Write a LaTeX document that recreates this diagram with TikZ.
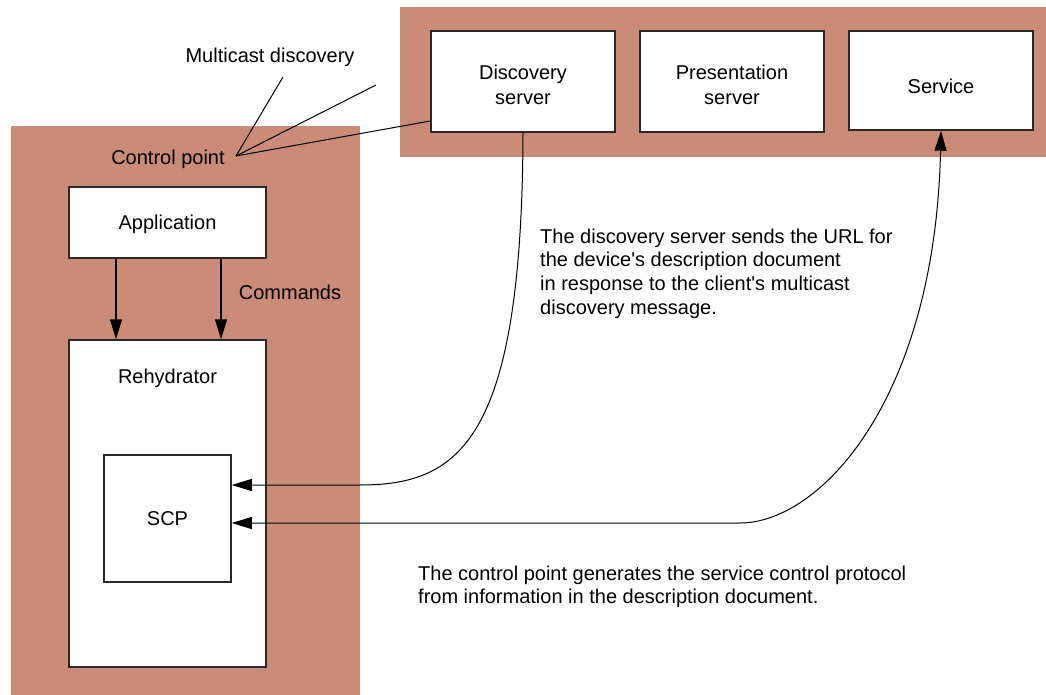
\documentclass[tikz,border=0pt]{standalone}
\usepackage{fontspec}
\setmainfont{Liberation Sans}
\usetikzlibrary{arrows.meta}
\definecolor{panel}{RGB}{202,140,121}
\definecolor{edge}{RGB}{45,40,40}
\newcommand\figfont{\fontsize{20}{24.5}\selectfont}
\newcommand\parfont{\fontsize{20}{23.8}\selectfont}
\begin{document}
\begin{tikzpicture}[x=1pt,y=-1pt,
  box/.style={draw=edge,line width=1.5pt,fill=white,inner sep=0pt},
  lbl/.style={inner sep=0pt,font=\figfont,align=center},
  para/.style={inner sep=0pt,font=\parfont,align=left,anchor=north west},
  conn/.style={line width=1pt},
  arr/.style={conn,-{Triangle[length=20pt,width=12pt]}},
  darr/.style={conn,{Triangle[length=20pt,width=12pt]}-{Triangle[length=20pt,width=12pt]}}]
\useasboundingbox[fill=white] (0,0) rectangle (1046,695);
% panels
\fill[panel] (11,126) rectangle (360,695);
\fill[panel] (400,7) rectangle (1046,157);
% top boxes
\node[box,minimum width=184,minimum height=101] (disc) at (523,81.5) {};
\node[lbl] (discl) at (523,85) {Discovery\\server};
\node[box,minimum width=184,minimum height=101] (pres) at (732,81.5) {};
\node[lbl] (presl) at (732,85) {Presentation\\server};
\node[box,minimum width=184,minimum height=99] (serv) at (941,80.5) {};
\node[lbl] (servl) at (941,86) {Service};
% control point boxes
\node[box,minimum width=197,minimum height=71] (app) at (167.5,222.5) {};
\node[lbl] (appl) at (167.5,224.5) {Application};
\node[box,minimum width=197,minimum height=327] (reh) at (167.5,503.5) {};
\node[lbl] (rehl) at (167.5,378.5) {Rehydrator};
\node[box,minimum width=127,minimum height=127] (scp) at (167.5,518.5) {};
\node[lbl] (scpl) at (167.5,519) {SCP};
% labels
\node[lbl] (mcast) at (270,57) {Multicast discovery};
\node[lbl] (cpl) at (168,159) {Control point};
\node[lbl] (cmds) at (290,292) {Commands};
\node[para] (t1) at (540,228.5) {The discovery server sends the URL for\\the device\textquotesingle s description document\\in response to the client\textquotesingle s multicast\\discovery message.};
\node[para] (t2) at (418,565.5) {The control point generates the service control protocol\\from information in the description document.};
% leader lines
\coordinate (cp) at (236,156);
\coordinate (m1) at (283,77);
\coordinate (m2) at (376,85);
\draw[conn] (cp) -- (m1);
\draw[conn] (cp) -- (m2);
\draw[conn] (cp) -- ([yshift=-39.5pt]disc.west);
% commands
\draw[arr,line width=1.3pt] ([xshift=-51.5pt]app.south) -- ([xshift=-51.5pt]reh.north);
\draw[arr,line width=1.3pt] ([xshift=53.5pt]app.south) -- ([xshift=53.5pt]reh.north);
% curves
\draw[arr] (disc.south) .. controls (522,440) and (460,485) .. (360,485) -- ([yshift=33.5pt]scp.east);
\draw[darr] ([yshift=-4.5pt]scp.east) -- (740,523) .. controls (820,523) and (935,400) .. (serv.south);
\end{tikzpicture}
\end{document}
